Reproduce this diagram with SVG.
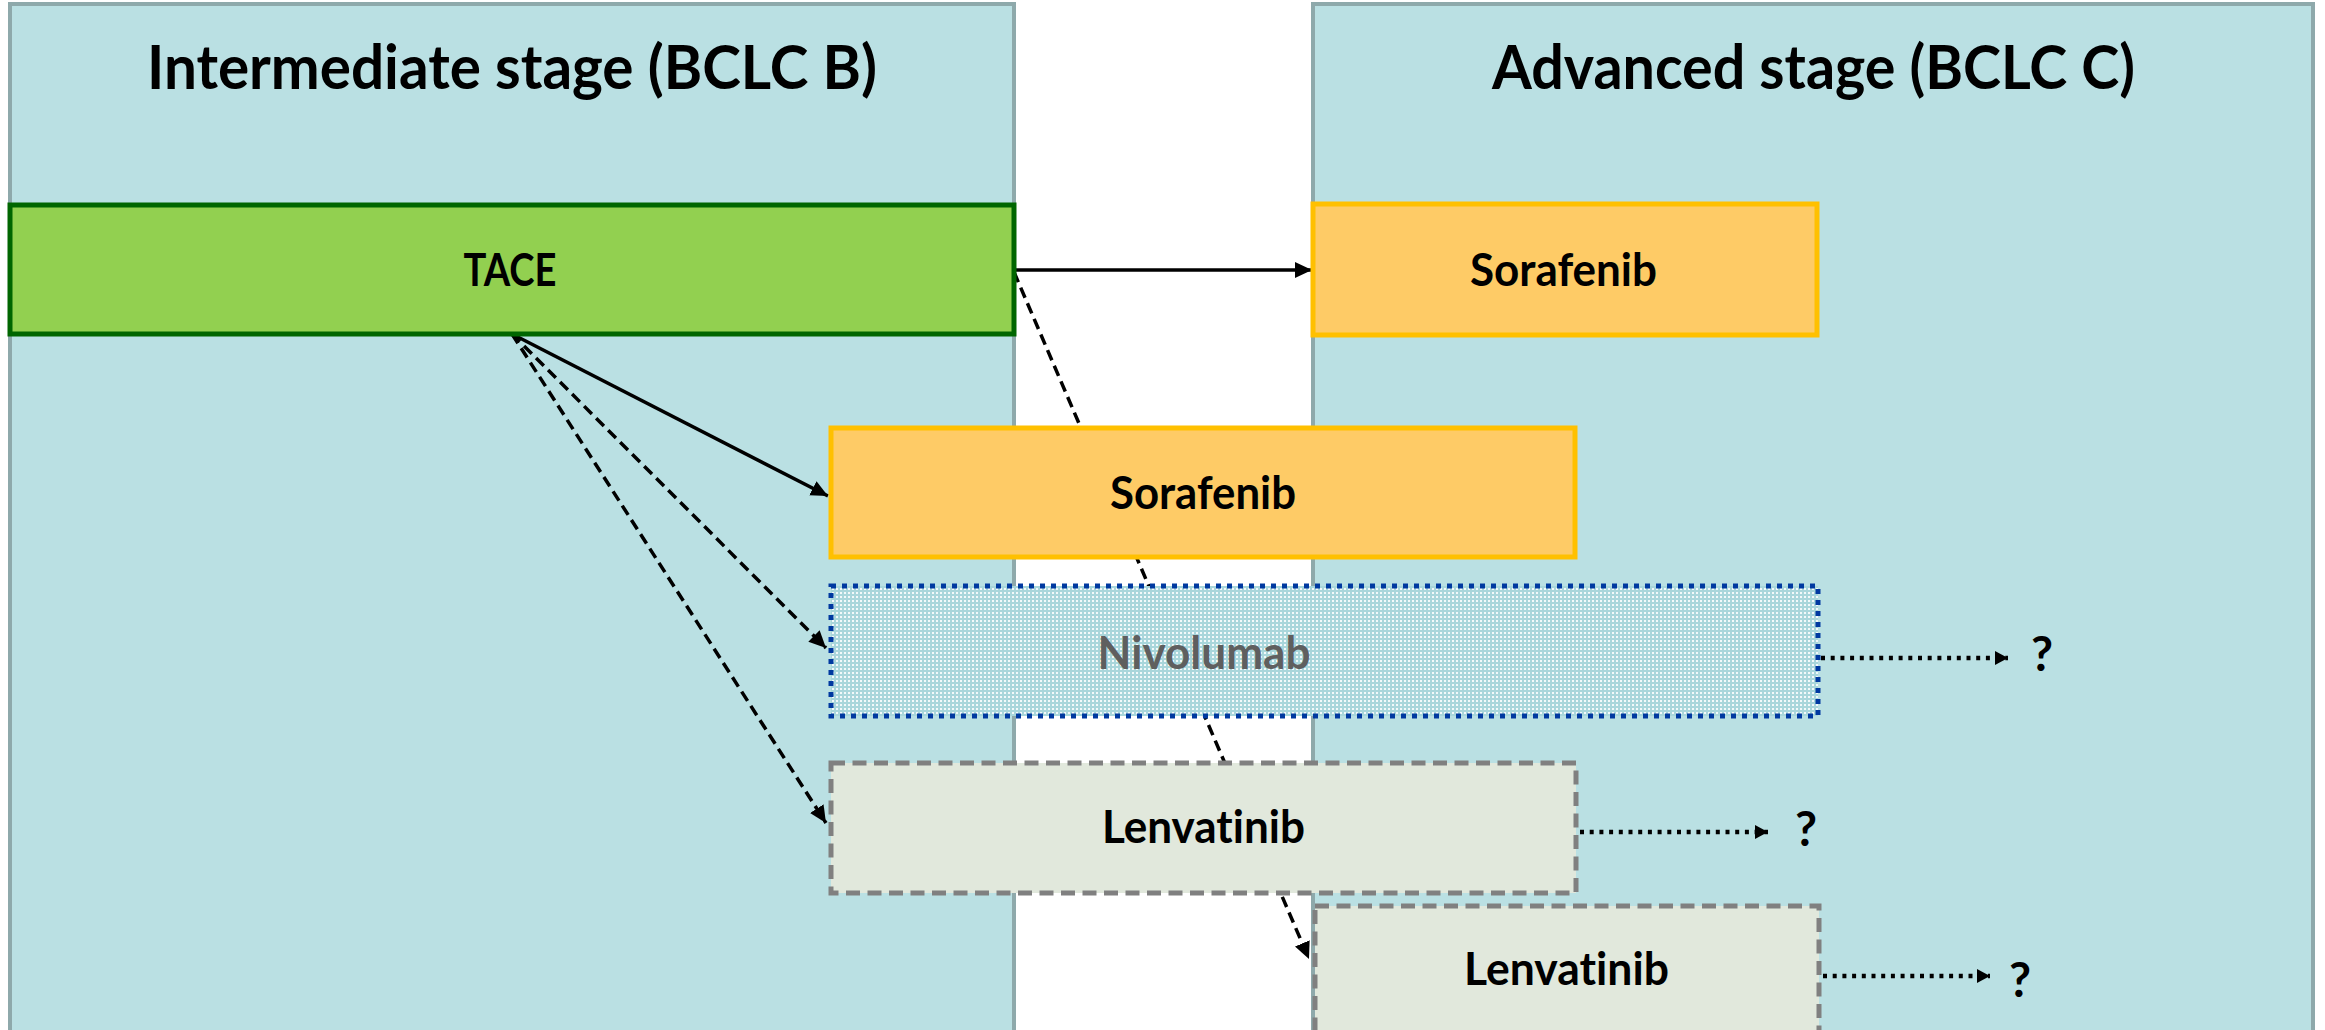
<svg xmlns="http://www.w3.org/2000/svg" width="2325" height="1030" viewBox="0 0 2325 1030">
  <style>
    text { font-family: "Lato", "Open Sans", "Liberation Sans", sans-serif; font-weight: 700; fill: #000000; text-anchor: middle; font-variant-ligatures: none; }
    .title { font-size: 62px; }
    .label { font-size: 46px; }
    .q { font-size: 48px; }
    .panel { fill: #BAE0E3; stroke: #8EA9AB; stroke-width: 4; }
    .tace { fill: #92D050; stroke: #006600; stroke-width: 5; }
    .sora { fill: #FECB66; stroke: #FFC000; stroke-width: 5; }
    .nivo { fill: url(#dotfill); stroke: #0039A0; stroke-width: 5; stroke-dasharray: 5 6; }
    .lenva { fill: #E1E8DC; stroke: #808080; stroke-width: 5; stroke-dasharray: 14 7.5; }
    .solid { stroke: #000000; stroke-width: 3.5; fill: none; }
    .dash { stroke: #000000; stroke-width: 3.5; fill: none; stroke-dasharray: 11 6; }
    .dot { stroke: #000000; stroke-width: 4.5; fill: none; stroke-dasharray: 4 5.7; }
  </style>
  <defs>
    <pattern id="dotfill" width="4" height="4" patternUnits="userSpaceOnUse">
      <rect width="4" height="4" fill="#A9D6DB"/>
      <rect width="2" height="2" fill="#FFFFFF" opacity="0.85"/>
    </pattern>
    <marker id="head" markerUnits="userSpaceOnUse" markerWidth="18" markerHeight="16" refX="17" refY="8" orient="auto">
      <path d="M0,0 L17,8 L0,16 z" fill="#000000"/>
    </marker>
    <marker id="headSmall" markerUnits="userSpaceOnUse" markerWidth="14" markerHeight="14" refX="13" refY="7" orient="auto">
      <path d="M0,0 L13,7 L0,14 z" fill="#000000"/>
    </marker>
  </defs>

  <rect width="2325" height="1030" fill="#FFFFFF"/>

  <!-- stage panels -->
  <g id="panel-intermediate">
    <rect class="panel" x="10" y="4" width="1004" height="1040"/>
    <text class="title" x="512" y="89" textLength="730" lengthAdjust="spacingAndGlyphs">Intermediate stage (BCLC B)</text>
  </g>
  <g id="panel-advanced">
    <rect class="panel" x="1313" y="4" width="1000" height="1040"/>
    <text class="title" x="1813.5" y="89" textLength="643" lengthAdjust="spacingAndGlyphs">Advanced stage (BCLC C)</text>
  </g>

  <!-- connectors -->
  <g id="connectors">
    <line class="solid" x1="1014" y1="270" x2="1312" y2="270" marker-end="url(#head)"/>
    <line class="dash" x1="1014" y1="272" x2="1309" y2="959" marker-end="url(#head)"/>
    <line class="solid" x1="512" y1="334" x2="828" y2="496" marker-end="url(#head)"/>
    <line class="dash" x1="512" y1="334" x2="826" y2="648" marker-end="url(#head)"/>
    <line class="dash" x1="512" y1="334" x2="826" y2="823" marker-end="url(#head)"/>
    <line class="dot" x1="1821" y1="658" x2="2008" y2="658" marker-end="url(#headSmall)"/>
    <line class="dot" x1="1580" y1="832" x2="1768" y2="832" marker-end="url(#headSmall)"/>
    <line class="dot" x1="1823" y1="976" x2="1990" y2="976" marker-end="url(#headSmall)"/>
  </g>

  <!-- treatment nodes -->
  <g id="node-tace">
    <rect class="tace" x="10" y="205" width="1004" height="129"/>
    <text class="label" x="510" y="286" textLength="93" lengthAdjust="spacingAndGlyphs">TACE</text>
  </g>
  <g id="node-sorafenib-advanced">
    <rect class="sora" x="1313" y="204" width="504" height="131"/>
    <text class="label" x="1563.5" y="286" textLength="187" lengthAdjust="spacingAndGlyphs">Sorafenib</text>
  </g>
  <g id="node-sorafenib-intermediate">
    <rect class="sora" x="831" y="428" width="744" height="129"/>
    <text class="label" x="1203" y="509" textLength="186" lengthAdjust="spacingAndGlyphs">Sorafenib</text>
  </g>
  <g id="node-nivolumab">
    <rect class="nivo" x="831" y="586" width="987" height="130"/>
    <text class="label" x="1204" y="669" textLength="213" lengthAdjust="spacingAndGlyphs" style="fill:#5F5F5F">Nivolumab</text>
  </g>
  <g id="node-lenvatinib-intermediate">
    <rect class="lenva" x="831" y="763" width="745" height="130"/>
    <text class="label" x="1203.5" y="843" textLength="203" lengthAdjust="spacingAndGlyphs">Lenvatinib</text>
  </g>
  <g id="node-lenvatinib-advanced">
    <rect class="lenva" x="1315" y="906" width="504" height="150"/>
    <text class="label" x="1566.5" y="985" textLength="205" lengthAdjust="spacingAndGlyphs">Lenvatinib</text>
  </g>

  <!-- open outcomes -->
  <g id="outcome-nivolumab"><text class="q" x="2042" y="671">?</text></g>
  <g id="outcome-lenvatinib-intermediate"><text class="q" x="1806" y="846">?</text></g>
  <g id="outcome-lenvatinib-advanced"><text class="q" x="2020" y="997">?</text></g>
</svg>
